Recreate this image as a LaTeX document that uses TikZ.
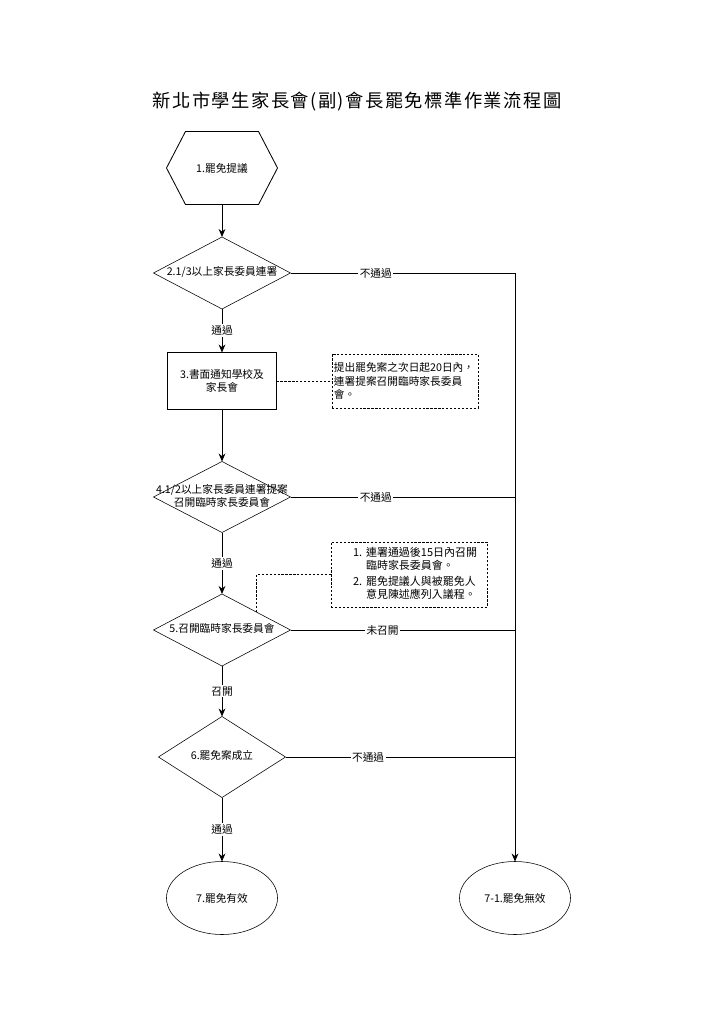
\documentclass[tikz,border=0pt]{standalone}
\usepackage{fontspec}
\setmainfont{Noto Sans CJK TC}
\newfontfamily\titlefont[LetterSpace=8]{Noto Sans CJK TC}
\usetikzlibrary{
  positioning,
  arrows.meta,
  shapes.geometric,
  calc
}
\newcommand{\dtext}[1]{\makebox[0pt]{\begin{tabular}{@{}c@{}}#1\end{tabular}}}

\begin{document}
\begin{tikzpicture}[
  x=0.025cm, y=-0.025cm,
  every node/.style={font=\fontsize{7.6}{8.8}\selectfont, outer sep=0pt},
  hexbox/.style={minimum width=2.775cm, minimum height=1.825cm},
  decide/.style={draw, diamond, inner sep=0pt, minimum width=3.425cm, minimum height=1.8cm},
  task/.style={draw, rectangle, align=center, minimum width=2.725cm, minimum height=1.425cm},
  memo/.style={draw, dashed, dash pattern=on 1.6pt off 1.2pt, rectangle},
  term/.style={draw, ellipse, minimum width=2.775cm, minimum height=1.825cm},
  lbl/.style={fill=white, inner sep=1pt},
  arr/.style={-{Stealth[length=2mm, width=1.7mm]}, line width=0.6pt},
  seg/.style={line width=0.6pt}
]
  \useasboundingbox (0,0) rectangle (724,1024);

  % title
  \node (title) at (357,102) {\titlefont\fontsize{13}{15}\selectfont 新北市學生家長會(副)會長罷免標準作業流程圖};

  % main column
  \node[hexbox] (propose) at (222,168) {1.罷免提議};
  \draw[seg] ($(propose.north west)+(19,0)$) -- ($(propose.north east)+(-19,0)$)
    -- (propose.east) -- ($(propose.south east)+(-19,0)$)
    -- ($(propose.south west)+(19,0)$) -- (propose.west) -- cycle;

  \node[decide] (sign) at (222,273) {\dtext{2.1/3以上家長委員連署}};
  \node[task] (notify) at (222,381) {3.書面通知學校及\\家長會};
  \node[decide, minimum height=1.775cm] (convene) at (222,497)
    {\dtext{4.1/2以上家長委員連署提案\\召開臨時家長委員會}};
  \node[decide] (meeting) at (222,630) {\dtext{5.召開臨時家長委員會}};
  \node[decide, minimum width=3.175cm, minimum height=2.025cm] (pass) at (222,757)
    {\dtext{6.罷免案成立}};
  \node[term] (valid) at (222,898) {7.罷免有效};
  \node[term] (invalid) at (515,898) {7-1.罷免無效};

  % notes
  \node[memo, text width=3.55cm, inner xsep=0.05cm, minimum height=1.35cm,
        align=left, font=\fontsize{7.6}{9.8}\selectfont] (memo1) at (405,381)
    {提出罷免案之次日起20日內，\\連署提案召開臨時家長委員\\會。};
  \node[memo, minimum width=3.9cm, minimum height=1.625cm, inner sep=0pt,
        font=\fontsize{7.8}{9}\selectfont] (memo2) at (409,574.5)
    {\hspace*{1.1em}\begin{tabular}{@{}r@{\hspace{0.35em}}l@{}}
      1. & 連署通過後15日內召開\\
         & 臨時家長委員會。\\[2pt]
      2. & 罷免提議人與被罷免人\\
         & 意見陳述應列入議程。
    \end{tabular}};

  % flow
  \draw[arr] (propose) -- (sign);
  \draw[arr] (sign) -- node[lbl] {通過} (notify);
  \draw[arr] (notify) -- (convene);
  \draw[arr] (convene) -- node[lbl] {通過} (meeting);
  \draw[arr] (meeting) -- node[lbl] {召開} (pass);
  \draw[arr] (pass) -- node[lbl] {通過} (valid);

  % rejection line
  \draw[arr] (sign.east) -| node[lbl, pos=0.19] {不通過} (invalid.north);
  \draw[seg] (convene.east) -- node[lbl, pos=0.38] {不通過} (convene.east -| invalid.north);
  \draw[seg] (meeting.east) -- node[lbl, pos=0.41] {未召開} (meeting.east -| invalid.north);
  \draw[seg] (pass.east) -- node[lbl, pos=0.36] {不通過} (pass.east -| invalid.north);

  % note links
  \draw[memo] (notify.east) -- (memo1.west);
  \draw[memo] (memo2.west) -| (meeting.north east);
\end{tikzpicture}
\end{document}
